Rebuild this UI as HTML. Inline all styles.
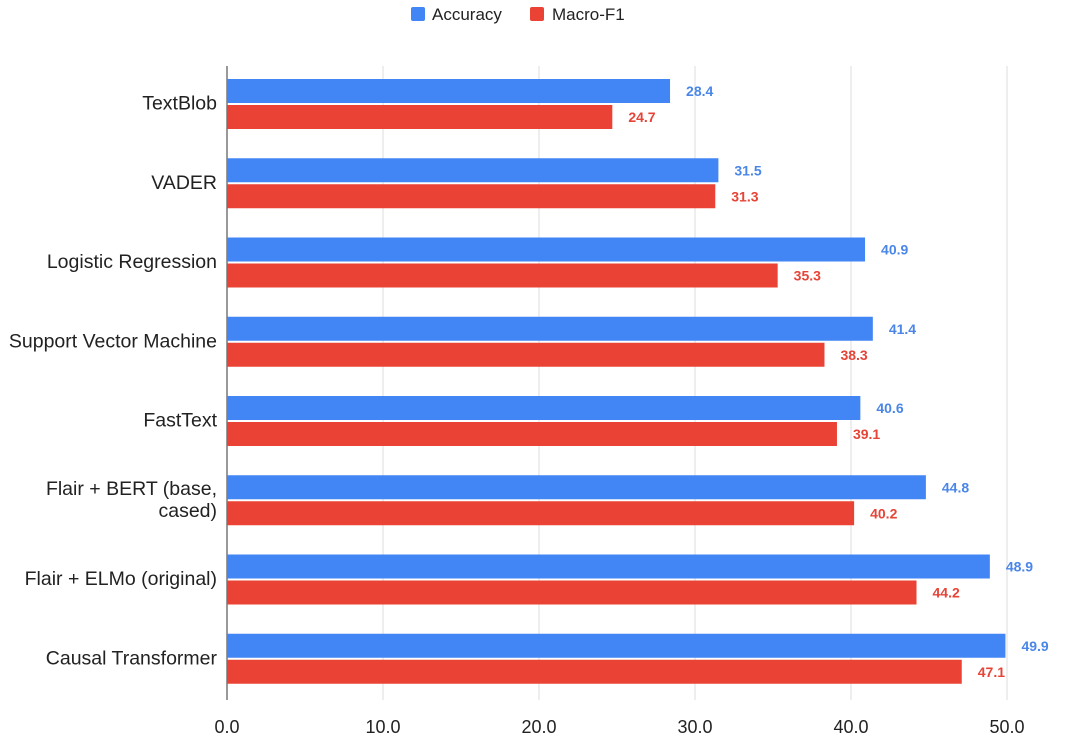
<!DOCTYPE html>
<html><head><meta charset="utf-8"><style>
body{margin:0;background:#fff;font-family:"Liberation Sans",Arial,sans-serif}
svg text{font-family:"Liberation Sans",Arial,sans-serif}
</style></head><body>
<svg id="chart" width="1066" height="744">
<g id="legend">
<g>
<rect x="411" y="7" width="14" height="14" rx="2" fill="#4285f4"/>
<text x="432" y="20" font-size="17" fill="#222">Accuracy</text></g>
<g>
<rect x="530" y="7" width="14" height="14" rx="2" fill="#ea4335"/>
<text x="552" y="20" font-size="17" fill="#222">Macro-F1</text></g>
</g>
<g id="grid"></g>
<g id="bars"></g>
<g id="labels"></g>
<g id="ticks"></g>
</svg>
<script>
const categories=[["TextBlob"],["VADER"],["Logistic Regression"],["Support Vector Machine"],["FastText"],["Flair + BERT (base,","cased)"],["Flair + ELMo (original)"],["Causal Transformer"]];
const accuracy=[28.4,31.5,40.9,41.4,40.6,44.8,48.9,49.9];
const macroF1=[24.7,31.3,35.3,38.3,39.1,40.2,44.2,47.1];
const ticks=[0,10,20,30,40,50];
const NS="http://www.w3.org/2000/svg";
const x0=227,pxPer=15.6,plotTop=66,groupH=79.25;
const xs=v=>x0+v*pxPer;
function mk(t,a,p){const e=document.createElementNS(NS,t);for(const k in a)e.setAttribute(k,a[k]);p.appendChild(e);return e;}
const grid=document.getElementById('grid'),bars=document.getElementById('bars'),labels=document.getElementById('labels'),tk=document.getElementById('ticks');
ticks.forEach(t=>{
 const l=mk('line',{x1:xs(t),x2:xs(t),y1:plotTop,y2:plotTop+groupH*categories.length,stroke:t===0?'#333':'#ddd','stroke-width':1},grid);
 
 
 const tx=mk('text',{x:xs(t),y:733,'font-size':18,'text-anchor':'middle',fill:'#222'},tk);
 tx.textContent=t.toFixed(1);
 
 
});
categories.forEach((c,i)=>{
 const gy=plotTop+i*groupH;
 const series=[[accuracy[i],'#4285f4','#4a86e8',13],[macroF1[i],'#ea4335','#e54437',39]];
 series.forEach(([v,col,lc,off],j)=>{
  const r=mk('rect',{x:x0,y:gy+off,width:xs(v)-x0,height:24,fill:col},bars);
  
  
  const t=mk('text',{x:xs(v)+16,y:gy+off+17,'font-size':14,'font-weight':'bold',fill:lc},bars);
  t.textContent=v.toFixed(1);
  
  
 });
 const cy=gy+groupH/2+4;
 c.forEach((line,k)=>{
  const t=mk('text',{x:217,y:cy+(k-(c.length-1)/2)*22,'font-size':19.5,'text-anchor':'end',fill:'#222'},labels);
  t.textContent=line;
  
  
 });
});
</script>
</body></html>
